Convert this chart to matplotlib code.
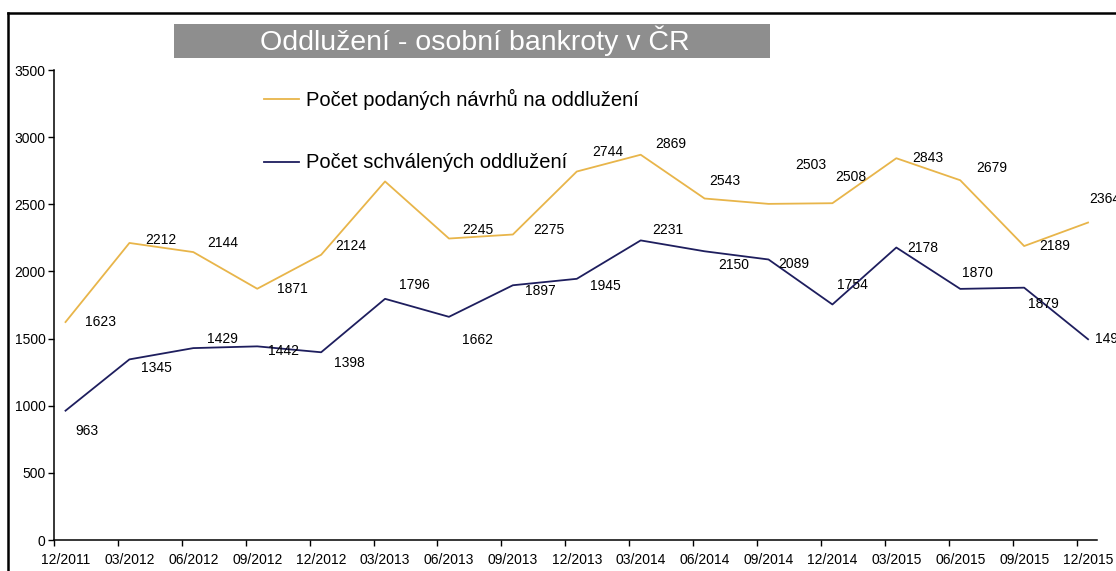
import matplotlib
matplotlib.use("Agg")
import matplotlib.pyplot as plt
from matplotlib import font_manager
from matplotlib.patches import Rectangle
from matplotlib.lines import Line2D
import numpy as np

# ---------------- data ----------------
categories = ["12/2011", "03/2012", "06/2012", "09/2012", "12/2012", "03/2013",
              "06/2013", "09/2013", "12/2013", "03/2014", "06/2014", "09/2014",
              "12/2014", "03/2015", "06/2015", "09/2015", "12/2015"]
podane = [1623, 2212, 2144, 1871, 2124, 2670, 2245, 2275, 2744, 2869, 2543,
          2503, 2508, 2843, 2679, 2189, 2364]
schvalene = [963, 1345, 1429, 1442, 1398, 1796, 1662, 1897, 1945, 2231, 2150,
             2089, 1754, 2178, 1870, 1879, 1495]
podane_label_shown = [True, True, True, True, True, False, True, True, True, True,
                      True, True, True, True, True, True, True]
yticks = [0, 500, 1000, 1500, 2000, 2500, 3000, 3500]
title = "Oddlužení - osobní bankroty v ČR"
legend_labels = ["Počet podaných návrhů na oddlužení", "Počet schválených oddlužení"]

# label placement (pixel offsets of label centre from point)
off_podane = [(35, 0), (31, 3), (29, 9), (35, 0), (30, 9), (0, 0), (29, 9), (36, 5),
              (31, 20), (30, 11), (20, 18), (42, 39), (18, 26), (31, 0), (32, 12),
              (31, 0), (17, 24)]
off_schval = [(21, -20), (27, -9), (29, 9), (26, -5), (28, -11), (29, 14), (29, -23),
              (28, -6), (29, -7), (27, 10), (29, -14), (25, -5), (20, 19), (26, 0),
              (17, 16), (19, -16), (22, 0)]

# ---------------- fonts ----------------
names = {f.name for f in font_manager.fontManager.ttflist}
base = "Liberation Sans" if "Liberation Sans" in names else "DejaVu Sans"
narrow = "Liberation Sans Narrow" if "Liberation Sans Narrow" in names else base
plt.rcParams["font.family"] = [base, "DejaVu Sans"]
title_size = 23 if narrow != base else 20.5
legend_size = 17 if narrow != base else 14.5

W, H = 1116, 571
fig = plt.figure(figsize=(W / 100, H / 100), dpi=100)
fig.patch.set_facecolor("white")

def fx(px):
    return px / W

def fy(py):
    return 1 - py / H

# outer frame (partially cut by image edge)
fig.add_artist(Line2D([fx(8), fx(8)], [fy(13), 0], transform=fig.transFigure,
                      color="black", lw=1.8))
fig.add_artist(Line2D([fx(8), 1], [fy(13), fy(13)], transform=fig.transFigure,
                      color="black", lw=1.8))

# title box
fig.add_artist(Rectangle((fx(174), fy(58)), fx(770) - fx(174), fy(24) - fy(58),
                         transform=fig.transFigure, facecolor="#8e8e8e",
                         edgecolor="none"))
fig.text(fx(475), fy(41), title, color="white", fontsize=title_size,
         family=[narrow, "DejaVu Sans"], ha="center", va="center")

orange = "#E8B54A"
navy = "#1E1E5E"

ax = fig.add_axes([fx(54), fy(540), fx(1097) - fx(54), fy(70) - fy(540)])
x = np.arange(len(categories))
ax.plot(x, podane, color=orange, lw=1.3)
ax.plot(x, schvalene, color=navy, lw=1.3)

ax.set_xlim(-0.17, 16.14)
ax.set_ylim(0, 3500)
ax.set_yticks(yticks)
ax.set_yticklabels([str(v) for v in yticks], fontsize=10)
ax.set_xticks(x)
ax.set_xticklabels(categories, fontsize=10)
ax.tick_params(axis="x", which="major", length=0, pad=9)
ax.set_xticks(x - 0.18, minor=True)
ax.tick_params(axis="x", which="minor", length=4, width=1, direction="out")
ax.tick_params(axis="y", length=4, width=1, direction="out", pad=2)
for s in ["top", "right"]:
    ax.spines[s].set_visible(False)
for s in ["left", "bottom"]:
    ax.spines[s].set_linewidth(1.1)

for i, v in enumerate(podane):
    if not podane_label_shown[i]:
        continue
    dx, dy = off_podane[i]
    ax.annotate(str(v), (x[i], v), xytext=(dx, dy), textcoords="offset pixels",
                ha="center", va="center", fontsize=10, annotation_clip=False)
for i, v in enumerate(schvalene):
    dx, dy = off_schval[i]
    ha = "left" if i == len(schvalene) - 1 else "center"
    if ha == "left":
        dx = 7
    ax.annotate(str(v), (x[i], v), xytext=(dx, dy), textcoords="offset pixels",
                ha=ha, va="center", fontsize=10, annotation_clip=False)

# legend drawn as in the original (free floating entries)
for (py, col, lab) in [(99, orange, legend_labels[0]), (162, navy, legend_labels[1])]:
    fig.add_artist(Line2D([fx(264), fx(299)], [fy(py), fy(py)], transform=fig.transFigure,
                          color=col, lw=1.3))
    fig.text(fx(306), fy(py), lab, fontsize=legend_size, family=[narrow, "DejaVu Sans"],
             ha="left", va="center", color="black")

fig.savefig("out.png", dpi=100)
